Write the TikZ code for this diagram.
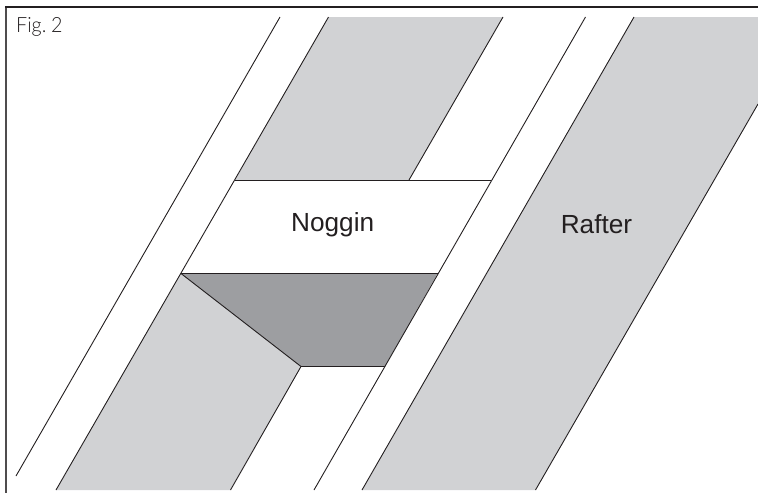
\documentclass[tikz,border=0pt]{standalone}
\usepackage{fontspec}
\setmainfont{Liberation Sans}
\newfontfamily\figfont{Lato Light}[WordSpace=0.55,FakeStretch=0.94]
\definecolor{rafterfill}{HTML}{D1D2D4}
\definecolor{shadefill}{HTML}{9D9EA1}
\definecolor{inkline}{HTML}{231F20}
\tikzset{
  edgeline/.style={draw=inkline,line width=0.9pt},
  heavyline/.style={draw=inkline,line width=1.4pt},
  partlabel/.style={inner sep=0pt,text=inkline,font=\fontsize{26.2}{30}\selectfont},
}
\begin{document}
\begin{tikzpicture}[x=1pt,y=-1pt]
\useasboundingbox (0,0) rectangle (758,493);
% rafters
\fill[rafterfill] (328.5,17) -- (503,17) -- (409,180) -- (235,180) -- cycle;
\fill[rafterfill] (181,273.5) -- (301,366.5) -- (230.5,490) -- (56,490) -- cycle;
\fill[rafterfill] (634,17) -- (758,17) -- (758,104) -- (535.5,490) -- (362,490) -- cycle;
\fill[shadefill] (181,273.5) -- (437.5,273.5) -- (385,366.5) -- (301,366.5) -- cycle;
% frame
\draw[draw=inkline!80,line width=1.6pt] (6,492.5) -- (6,7);
\draw[draw=inkline,line width=1.3pt] (5.2,7) -- (758,7);
% long edges
\draw[edgeline] (280,17) -- (16,476);
\draw[edgeline] (328.5,17) -- (56,490);
\draw[edgeline] (503,17) -- (409,180);
\draw[edgeline] (301,366.5) -- (230.5,490);
\draw[edgeline] (585.5,17) -- (314,490);
\draw[edgeline] (634,17) -- (362,490);
\draw[edgeline] (758,104) -- (535.5,490);
% noggin
\draw[edgeline] (235,180) -- (491,180);
\draw[heavyline] (181,273.5) -- (437.5,273.5);
\draw[edgeline] (181,273.5) -- (301,366.5) -- (385,366.5);
\node[partlabel] (noggin) at (332.7,225) {Noggin};
\node[partlabel] (rafter) at (596.5,224.5) {Rafter};
\node[inner sep=0pt,anchor=base west,text=inkline,font=\figfont\fontsize{21}{24}\selectfont] (figlabel) at (16,32.5) {Fig. 2};
\end{tikzpicture}
\end{document}
